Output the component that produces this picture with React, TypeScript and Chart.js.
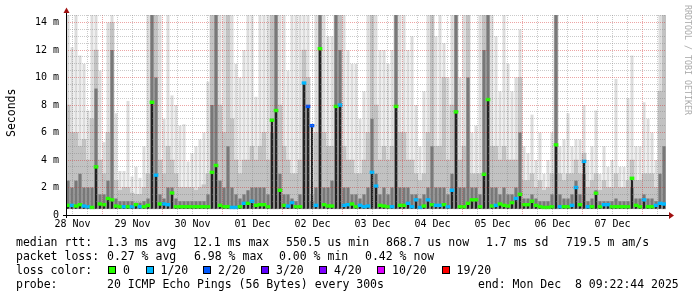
import React, { useEffect, useRef } from 'react';
import { Chart, registerables } from 'chart.js';

Chart.register(...registerables);

// ---------------- data ----------------
const spanHours = 240; // 10 days ending Mon Dec 8 09:22:44 2025
const binHours = 1.6;
const noonOffsetHours = 2.621; // 28 Nov 12:00 relative to graph start
const dayLabels = ['28 Nov', '29 Nov', '30 Nov', '01 Dec', '02 Dec', '03 Dec', '04 Dec', '05 Dec', '06 Dec', '07 Dec'];
const yMaxMs = 14.55;
const smokeBaseMs = 0.45;

// light smoke (outer pings), ms
const smokeTop = [
  14.55, 12.2, 14.55, 11.6, 11, 7.6, 14.55, 14.55, 10.5, 5.3,
  14, 14.55, 7.4, 3.2, 3.2, 8.3, 2.8, 3.5, 2.7, 5.0,
  14.55, 14.55, 14.55, 14.55, 7, 14.55, 8.7, 8, 6.5, 6.6,
  3.9, 4.5, 5, 5.5, 6, 9.7, 14.55, 14.55, 14.55, 14.55,
  14.55, 14.55, 11, 10, 12, 14.55, 14.55, 8.6, 14.55, 14.55,
  14.55, 14.55, 14.55, 14.55, 14.55, 10.5, 14.55, 14.55, 14.55, 14.55,
  14.55, 2.5, 14.55, 14.55, 14.55, 13, 13, 14.55, 14.55, 14.55,
  12, 11, 11, 7, 9, 14.55, 14.55, 14.55, 12, 12,
  11, 12, 14.55, 14.55, 14.55, 12, 13, 8, 5, 9,
  14.55, 14.55, 13, 14.55, 12.5, 10, 14.55, 14.55, 10, 14.55,
  14.55, 6, 6.5, 14.55, 14.55, 14.55, 14.55, 13, 9, 14.55,
  11, 9, 10, 13.5, 5, 4.5, 7.3, 4, 6, 3,
  4, 6, 14.55, 5, 5.5, 7.4, 5, 5.5, 5.5, 8,
  4, 5, 7.6, 3, 5, 3.5, 4, 9.9, 3.5, 3.5,
  8.5, 11.6, 5, 5, 8.2, 7, 6, 4, 14.55, 14.55,
];
// medium smoke, ms
const smokeMid = [
  8, 6, 6, 5, 5.5, 4, 7, 12, 4, 3,
  6, 14, 2.5, 1.8, 2, 2, 1.6, 1.5, 1.5, 2,
  3, 14.55, 14.55, 4, 3, 5, 4, 3, 2, 2,
  2, 2, 1.8, 2, 2.2, 3, 14.55, 14.55, 8, 6,
  14.55, 7, 4, 3, 4, 4, 5, 4, 5, 6,
  4, 14.55, 14.55, 8, 5, 4, 3, 3, 4, 12,
  10, 1.5, 6, 14.55, 6, 5, 5, 14.55, 14.55, 5,
  4, 4, 3, 3, 4, 6, 14.55, 8, 4, 5,
  4, 5, 14.55, 6, 6, 4, 4, 3, 2.5, 3,
  6, 14.55, 5, 5, 10, 4, 8, 14.55, 4, 5,
  14.55, 3, 3, 3, 14.55, 14.55, 5, 5, 4, 5,
  4, 4, 4, 10, 2.5, 2.5, 3, 2, 2.5, 1.8,
  2, 3, 14.55, 3, 2.5, 3, 3, 4, 3, 4.5,
  2, 2.5, 3, 1.8, 2.5, 2, 2, 3, 2, 2,
  2.5, 4, 2.5, 2.5, 3, 3, 3, 2, 9, 14.55,
];
// dark smoke (inner pings), ms
const smokeLow = [
  2.5, 2, 2.5, 3, 2, 2, 2, 9.2, 1.5, 1.5,
  2.5, 12, 1.2, 1.0, 1, 1, 1, 0.9, 0.9, 1,
  1.2, 14.55, 10, 1.5, 1.2, 2, 2, 1.2, 1, 1,
  1, 1, 1, 1, 1, 1.5, 8, 14.55, 2.5, 2,
  5, 2, 1.5, 1.2, 1.5, 1.8, 2, 2, 2, 2,
  1.5, 6, 14.55, 3, 1.5, 1.5, 1.2, 1.0, 1.5, 9.6,
  8, 1, 2, 14.55, 2, 2, 2.5, 14.55, 12, 2,
  2, 1.5, 1.5, 1.2, 1.5, 2, 7, 3, 1.5, 2,
  1.5, 2, 14.55, 2, 2, 2, 1.5, 1.5, 1.2, 1.5,
  2, 5, 2, 2, 2, 1.5, 3, 14.55, 2, 2,
  10, 2, 2, 1.5, 12, 14.55, 2, 2, 1.5, 2,
  1.5, 1.5, 2, 6, 1.2, 1.2, 1.5, 1.2, 1, 1,
  1, 1.5, 14.55, 1.5, 1.2, 1.2, 1.5, 2.5, 1.5, 3,
  1, 1.2, 1.8, 1, 1, 1, 1, 1.2, 1, 1,
  1, 2, 1.2, 1.2, 1.5, 1.2, 1.2, 1, 3, 5,
];
// median rtt, ms
const medianMs = [
  0.7, 0.7, 0.65, 0.75, 0.65, 0.6, 0.55, 3.5, 0.8, 0.75,
  1.2, 1.1, 0.65, 0.6, 0.6, 0.6, 0.6, 0.75, 0.6, 0.6,
  0.7, 8.2, 2.9, 0.8, 0.8, 0.75, 1.6, 0.6, 0.6, 0.6,
  0.6, 0.6, 0.6, 0.6, 0.6, 0.6, 3.1, 3.6, 0.7, 0.6,
  0.6, 0.55, 0.55, 0.6, 0.85, 0.85, 1.0, 0.7, 0.75, 0.75,
  0.6, 6.9, 7.6, 1.8, 0.7, 0.65, 0.9, 0.6, 0.6, 9.6,
  7.9, 6.5, 0.7, 12.1, 0.75, 0.65, 0.65, 7.9, 8.0, 0.7,
  0.75, 0.8, 0.6, 0.7, 0.6, 0.65, 3.1, 2.1, 0.7, 0.65,
  0.6, 0.6, 7.9, 0.7, 0.7, 0.85, 0.6, 1.1, 0.55, 0.65,
  1.1, 0.75, 0.7, 0.7, 0.75, 0.6, 1.8, 7.5, 0.6, 0.6,
  0.85, 1.1, 1.1, 0.6, 2.96, 8.4, 0.65, 0.7, 0.8, 0.7,
  0.65, 0.9, 1.2, 1.5, 0.75, 0.75, 1.0, 0.7, 0.6, 0.55,
  0.55, 0.6, 5.1, 0.6, 0.6, 0.6, 0.7, 2.0, 0.75, 3.9,
  0.6, 0.6, 1.58, 0.6, 0.75, 0.75, 0.6, 0.6, 0.6, 0.6,
  0.6, 2.67, 0.7, 0.6, 1.1, 0.6, 0.6, 0.7, 0.85, 0.8,
];
// loss step index per bin (0 = no loss, 1 = 1/20, 2 = 2/20)
const lossIndex = [
  0, 1, 0, 0, 1, 1, 0, 0, 0, 0,
  0, 0, 0, 0, 1, 0, 1, 0, 1, 0,
  0, 0, 1, 0, 1, 1, 0, 0, 0, 0,
  0, 0, 0, 0, 0, 0, 0, 0, 0, 0,
  0, 1, 1, 0, 1, 0, 1, 0, 0, 0,
  0, 0, 0, 0, 0, 1, 1, 0, 0, 1,
  2, 2, 1, 0, 0, 0, 0, 0, 1, 1,
  1, 0, 0, 1, 1, 1, 1, 1, 0, 0,
  0, 1, 0, 0, 0, 1, 1, 1, 1, 0,
  1, 0, 1, 1, 0, 1, 1, 0, 0, 0,
  0, 0, 0, 0, 0, 0, 0, 1, 0, 0,
  0, 0, 1, 0, 0, 0, 0, 0, 0, 0,
  0, 0, 0, 1, 0, 0, 1, 1, 0, 1,
  1, 0, 0, 0, 1, 1, 0, 0, 0, 0,
  0, 0, 0, 0, 1, 0, 0, 1, 1, 1,
];

const lossSteps = ['0', '1/20', '2/20', '3/20', '4/20', '10/20', '19/20'];
const lossColors = ['#26ff00', '#00b8ff', '#0059ff', '#5e00ff', '#7e00ff', '#dd00ff', '#ff0000'];

const rttStats = ['median rtt:', '1.3 ms avg', '12.1 ms max', '550.5 us min', '868.7 us now', '1.7 ms sd', '719.5 m am/s'];
const lossStats = ['packet loss:', '0.27 % avg', '6.98 % max', '0.00 % min', '0.42 % now'];
const probeStats = ['probe:', '20 ICMP Echo Pings (56 Bytes) every 300s'];
const endStat = 'end: Mon Dec  8 09:22:44 2025';
const lossColorTitle = 'loss color:';
const yTitle = 'Seconds';
const watermark = 'RRDTOOL / TOBI OETIKER';

// ---------------- component ----------------
const MONO = '"DejaVu Sans Mono", monospace';

export default function App() {
  const ref = useRef<HTMLCanvasElement>(null);

  useEffect(() => {
    const canvas = ref.current;
    if (!canvas) return;
    const xs = smokeTop.map((_, i) => (i + 0.5) * binHours);
    const band = (hi: number[]) => hi.map((v, i) => ({ x: xs[i], y: [smokeBaseMs, v] }));

    const xTicks: number[] = [];
    for (let t = noonOffsetHours; t <= spanHours; t += 6) xTicks.push(t);
    const phase = (v: number) => (((v - noonOffsetHours) % 24) + 24) % 24;
    const yTicks: number[] = [];
    for (let v = 0; v <= yMaxMs; v += 0.5) yTicks.push(v);

    const axesPlugin = {
      id: 'rrdAxes',
      afterDraw(chart: any) {
        const { ctx, chartArea: a } = chart;
        ctx.save();
        ctx.strokeStyle = '#000';
        ctx.lineWidth = 1;
        ctx.beginPath();
        ctx.moveTo(a.left - 3, a.bottom + 0.5);
        ctx.lineTo(a.right + 4, a.bottom + 0.5);
        ctx.moveTo(a.left + 0.5, a.bottom + 3);
        ctx.lineTo(a.left + 0.5, a.top - 3);
        ctx.stroke();
        ctx.fillStyle = '#a01010';
        ctx.beginPath();
        ctx.moveTo(a.left + 0.5, a.top - 7.5);
        ctx.lineTo(a.left - 2.5, a.top - 2);
        ctx.lineTo(a.left + 3.5, a.top - 2);
        ctx.closePath();
        ctx.fill();
        ctx.beginPath();
        ctx.moveTo(a.right + 8, a.bottom + 0.5);
        ctx.lineTo(a.right + 3, a.bottom - 3);
        ctx.lineTo(a.right + 3, a.bottom + 4);
        ctx.closePath();
        ctx.fill();
        ctx.restore();
      },
    };

    const chart = new Chart(canvas, {
      type: 'bar',
      data: {
        datasets: [
          {
            label: 'median',
            data: medianMs.map((m, i) => ({ x: xs[i], y: [m - 0.1, m + 0.1] })),
            backgroundColor: lossIndex.map((k) => lossColors[k]),
          },
          { label: 'core', data: medianMs.map((m, i) => ({ x: xs[i], y: [smokeBaseMs, m] })), backgroundColor: '#222222', barPercentage: 0.55 },
          { label: 'low', data: band(smokeLow), backgroundColor: '#787878', barPercentage: 0.8 },
          { label: 'mid', data: band(smokeMid), backgroundColor: '#c2c2c2' },
          { label: 'top', data: band(smokeTop), backgroundColor: '#dcdcdc', barPercentage: 0.75 },
        ] as any,
      },
      options: {
        animation: false,
        responsive: false,
        maintainAspectRatio: false,
        events: [],
        datasets: {
          bar: { grouped: false, barPercentage: 1, categoryPercentage: 1, borderWidth: 0, clip: 0 } as any,
        },
        layout: { padding: { left: 0, right: 31, top: 15, bottom: 62 } },
        plugins: { legend: { display: false }, tooltip: { enabled: false }, title: { display: false } },
        scales: {
          x: {
            type: 'linear',
            min: 0,
            max: spanHours,
            offset: false,
            afterBuildTicks: (s: any) => {
              s.ticks = xTicks.map((v) => ({ value: v }));
            },
            afterFit: (s: any) => {
              s.height = 20;
            },
            ticks: {
              autoSkip: false,
              maxRotation: 0,
              padding: 3,
              color: '#000',
              font: { family: MONO, size: 10 },
              callback: (v: any) => {
                const p = phase(Number(v));
                if (p < 0.01 || p > 23.99) {
                  const idx = Math.round((Number(v) - noonOffsetHours) / 24);
                  return dayLabels[idx] ?? '';
                }
                return '';
              },
            },
            grid: {
              offset: false,
              drawTicks: false,
              lineWidth: 1,
              z: 1,
              color: (c: any) => {
                const p = phase(c.tick ? c.tick.value : 0);
                return Math.abs(p - 12) < 0.01 ? 'rgba(210,40,40,0.42)' : 'rgba(128,128,128,0.42)';
              },
            },
            border: { display: false, dash: [1, 1] },
          } as any,
          y: {
            min: 0,
            max: yMaxMs,
            afterBuildTicks: (s: any) => {
              s.ticks = yTicks.map((v) => ({ value: v }));
            },
            afterFit: (s: any) => {
              s.width = 66;
            },
            ticks: {
              autoSkip: false,
              padding: 7,
              color: '#000',
              font: { family: MONO, size: 10 },
              callback: (v: any) => {
                const n = Number(v);
                if (Math.abs(n % 2) > 0.001) return '';
                return n === 0 ? '0' : `${n} m`;
              },
            },
            grid: {
              drawTicks: false,
              lineWidth: 1,
              z: 1,
              color: (c: any) => {
                const v = c.tick ? c.tick.value : 0;
                if (v === 0) return 'rgba(0,0,0,0)';
                return Math.abs(v % 2) < 0.001 ? 'rgba(210,40,40,0.42)' : 'rgba(128,128,128,0.42)';
              },
            },
            border: { display: false, dash: [1, 1] },
          } as any,
        },
      },
      plugins: [axesPlugin],
    });
    return () => chart.destroy();
  }, []);

  const rttX = [16, 107, 193, 286, 386, 486, 566];
  const lossX = [16, 107, 194, 279, 365];
  const boxX = [108, 145.5, 203, 261, 319, 377, 441.5];
  const rowTop = [234.5, 248.7, 262.9, 277.1];
  const text = (x: number, top: number, s: string, key: string) => (
    <span key={key} style={{ position: 'absolute', left: x, top, whiteSpace: 'pre', font: `11.5px ${MONO}`, lineHeight: '14px', color: '#000' }}>{s}</span>
  );

  return (
    <div style={{ position: 'absolute', left: 0, top: 0, width: 697, height: 297, background: '#fff', overflow: 'hidden' }}>
      <canvas ref={ref} width={697} height={297} style={{ display: 'block', width: 697, height: 297 }} />
      <span style={{ position: 'absolute', left: 4, top: 137, transformOrigin: 'left top', transform: 'rotate(-90deg)', whiteSpace: 'pre', font: `11.5px ${MONO}`, lineHeight: '14px', color: '#000' }}>{yTitle}</span>
      <span style={{ position: 'absolute', left: 692, top: 5, transformOrigin: 'left top', transform: 'rotate(90deg)', whiteSpace: 'pre', font: `8.3px ${MONO}`, lineHeight: '9px', color: '#aaaaaa' }}>{watermark}</span>
      {rttStats.map((s, i) => text(rttX[i], rowTop[0], s, 'r' + i))}
      {lossStats.map((s, i) => text(lossX[i], rowTop[1], s, 'l' + i))}
      {text(16, rowTop[2], lossColorTitle, 'lc')}
      {lossSteps.map((s, i) => (
        <React.Fragment key={'b' + i}>
          <span style={{ position: 'absolute', left: boxX[i], top: 265.5, width: 6, height: 6, border: '1px solid #000', background: lossColors[i] }} />
          {text(boxX[i] + 15, rowTop[2], s, 'bt' + i)}
        </React.Fragment>
      ))}
      {text(16, rowTop[3], probeStats[0], 'p0')}
      {text(107, rowTop[3], probeStats[1], 'p1')}
      {text(478, rowTop[3], endStat, 'end')}
    </div>
  );
}
